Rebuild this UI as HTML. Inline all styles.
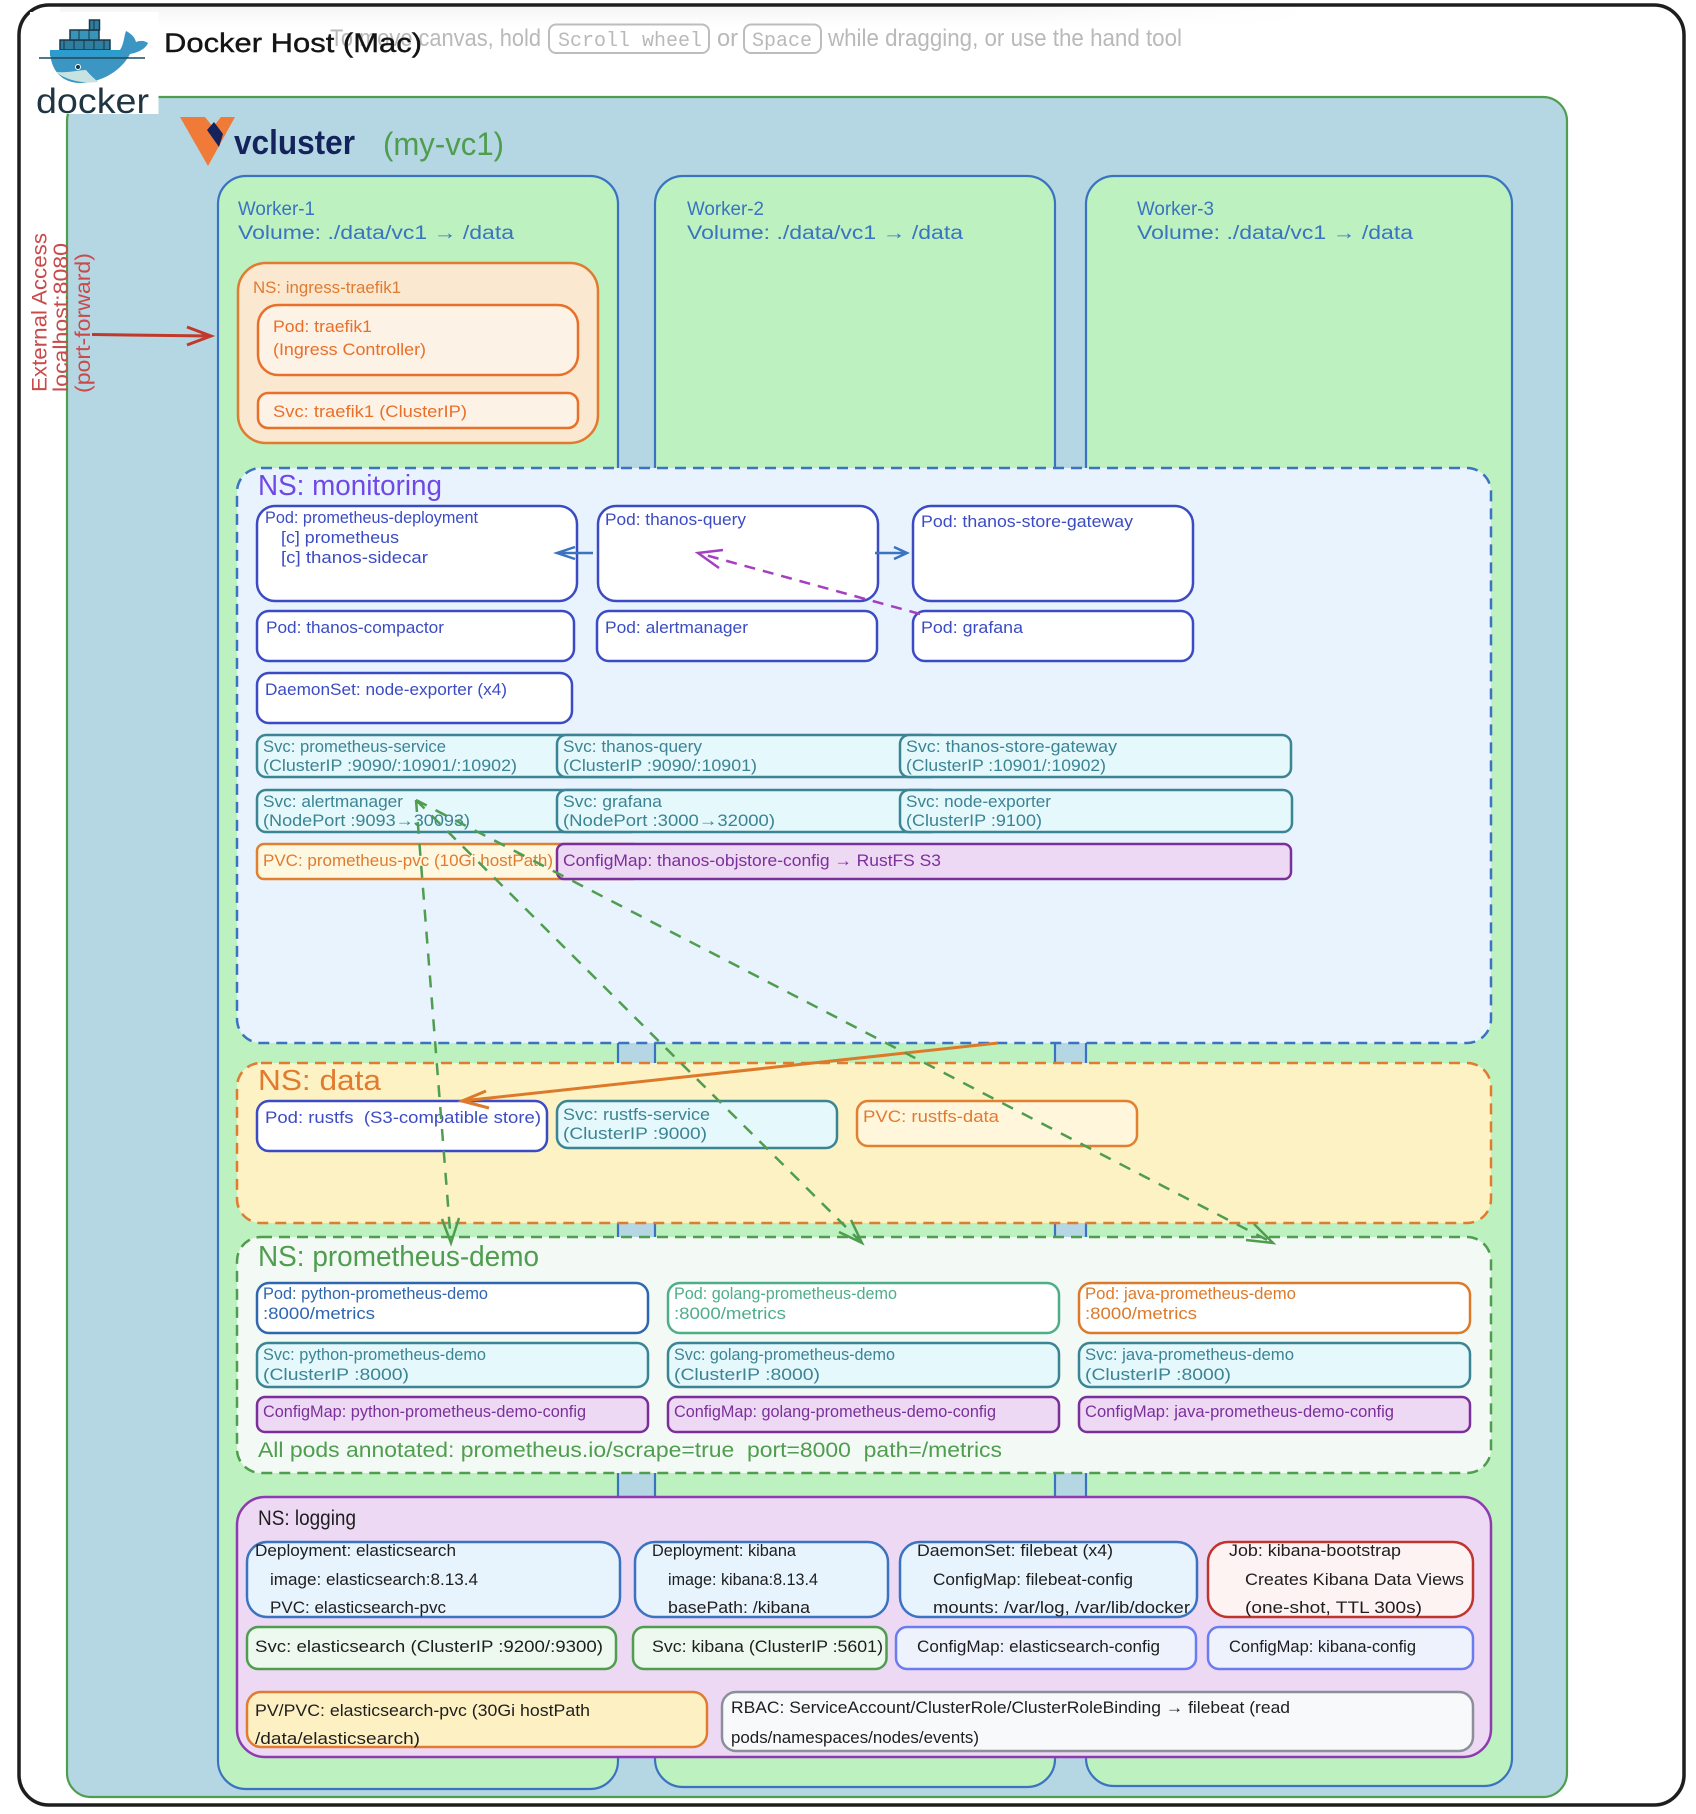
<!DOCTYPE html>
<html><head><meta charset="utf-8"><title>Docker Host diagram</title>
<style>
html,body{margin:0;padding:0;background:#fff;width:1696px;height:1814px;overflow:hidden}
svg{display:block}
text{font-family:"Liberation Sans",sans-serif;white-space:pre}
.m{font-size:17px;fill:#3b4bc4}
.s{font-size:17px;fill:#3b8494}
.c{font-size:17px;fill:#7b2f9b}
.o{font-size:17px;fill:#e07b30}
.k{font-size:17px;fill:#1e1e1e}
.w{font-size:19px;fill:#3a73c0}
.p{font-size:24px;fill:#b9b9b9}
</style></head><body>
<svg width="1696" height="1814" viewBox="0 0 1696 1814" xmlns="http://www.w3.org/2000/svg">
<defs><linearGradient id="g" x1="0" y1="0" x2="0" y2="1"><stop offset="0" stop-color="#f5f5f5"/><stop offset="1" stop-color="#fff"/></linearGradient>
<linearGradient id="h" x1="0" y1="0" x2="1" y2="0"><stop offset="0" stop-color="#fff" stop-opacity="0"/><stop offset="1" stop-color="#fff"/></linearGradient></defs>
<rect width="1696" height="1814" fill="#fff"/>
<rect x="19" y="5" width="1665" height="1800" rx="30" fill="#fff" stroke="#1e1e1e" stroke-width="3.5"/>
<rect x="60" y="7" width="1250" height="20" fill="url(#g)"/>
<rect x="1000" y="7" width="310" height="20" fill="url(#h)"/>

<rect x="67" y="97" width="1500" height="1700" rx="24" fill="#b5d6e3" stroke="#4f9d4f" stroke-width="2.2"/>
<rect x="218" y="176" width="400" height="1613" rx="28" fill="#bef1c0" stroke="#3a73c0" stroke-width="2.2"/>
<rect x="655" y="176" width="400" height="1611" rx="28" fill="#bef1c0" stroke="#3a73c0" stroke-width="2.2"/>
<rect x="1086" y="176" width="426" height="1610" rx="28" fill="#bef1c0" stroke="#3a73c0" stroke-width="2.2"/>

<!-- docker logo -->
<rect x="30" y="12" width="128.500" height="102" fill="#fff"/>
<g stroke="#16384a" stroke-width="1.5">
<rect x="60" y="40" width="50" height="10" fill="#2f7d9f"/><rect x="70" y="30" width="29" height="10" fill="#3a94b8"/><rect x="89.500" y="20" width="10" height="10" fill="#2f7d9f"/>
<path d="M64 40v10M74 40v10M84 40v10M94 40v10M104 40v10M79 30v10M89 30v10M94 20v10" fill="none" stroke-width="1"/>
</g>
<path d="M50 50 H120 C124 44 124 36 126 31 C132 34 135 38 136 42 C141 40 145 41 148 43 C145 50 136 53 130 54 C122 70 102 83 80 83 C62 83 50 70 50 50Z" fill="#3b96c4"/>
<path d="M50 50 H122 L120 56 H50Z" fill="#2a9ccd"/>
<path d="M56 72 C70 73 78 70 86 70 C90 75 96 80 98 82 C82 84 66 80 56 72Z" fill="#c6e3e1"/>
<path d="M39 58 H145" stroke="#1a4a62" stroke-width="1.500"/>
<circle cx="78" cy="67" r="2.500" fill="#16384a" stroke="#fff" stroke-width="1"/>
<text x="36" y="113" font-size="35" fill="#1f3642" textLength="113" lengthAdjust="spacingAndGlyphs">docker</text>

<!-- placeholder hint -->
<text class="p" x="330" y="46" textLength="211" lengthAdjust="spacingAndGlyphs">To move canvas, hold</text>
<rect x="549" y="24.500" width="160" height="28.500" rx="7" fill="none" stroke="#bdbdbd" stroke-width="2"/>
<text x="558" y="46" font-size="20" fill="#b9b9b9" style="font-family:'Liberation Mono',monospace" textLength="144" lengthAdjust="spacingAndGlyphs">Scroll wheel</text>
<text class="p" x="717" y="46" textLength="21" lengthAdjust="spacingAndGlyphs">or</text>
<rect x="744" y="24.500" width="77" height="28.500" rx="7" fill="none" stroke="#bdbdbd" stroke-width="2"/>
<text x="752" y="46" font-size="20" fill="#b9b9b9" style="font-family:'Liberation Mono',monospace" textLength="60" lengthAdjust="spacingAndGlyphs">Space</text>
<text class="p" x="828" y="46" textLength="354" lengthAdjust="spacingAndGlyphs">while dragging, or use the hand tool</text>

<text x="164" y="52" font-size="27" fill="#141414" stroke="#141414" stroke-width="0.4" textLength="258" lengthAdjust="spacingAndGlyphs">Docker Host (Mac)</text>

<!-- vcluster logo -->
<polygon points="180,117 235,117 208,166" fill="#f07a38"/>
<polygon points="205,117 221,117 213,127" fill="#b5d6e3"/>
<polygon points="207,130 214,122 223,134 219,147" fill="#14235c"/>
<text x="234" y="154" font-size="34" font-weight="bold" fill="#14235c" textLength="121" lengthAdjust="spacingAndGlyphs">vcluster</text>
<text x="383" y="155" font-size="32" fill="#4f9d4f" textLength="121" lengthAdjust="spacingAndGlyphs">(my-vc1)</text>

<!-- worker labels -->
<text class="w" x="238" y="215" textLength="77" lengthAdjust="spacingAndGlyphs">Worker-1</text>
<text class="w" x="238" y="239" textLength="276" lengthAdjust="spacingAndGlyphs">Volume: ./data/vc1 → /data</text>
<text class="w" x="687" y="215" textLength="77" lengthAdjust="spacingAndGlyphs">Worker-2</text>
<text class="w" x="687" y="239" textLength="276" lengthAdjust="spacingAndGlyphs">Volume: ./data/vc1 → /data</text>
<text class="w" x="1137" y="215" textLength="77" lengthAdjust="spacingAndGlyphs">Worker-3</text>
<text class="w" x="1137" y="239" textLength="276" lengthAdjust="spacingAndGlyphs">Volume: ./data/vc1 → /data</text>

<!-- ingress -->
<rect x="238" y="263" width="360" height="180" rx="28" fill="#fbe8d1" stroke="#e07b30" stroke-width="2.500"/>
<text class="o" x="253" y="293" textLength="148" lengthAdjust="spacingAndGlyphs">NS: ingress-traefik1</text>
<rect x="258" y="305" width="320" height="70" rx="20" fill="#fdf2e6" stroke="#e8702a" stroke-width="2.500"/>
<text class="o" x="273" y="332" textLength="99" lengthAdjust="spacingAndGlyphs" style="fill:#e8702a">Pod: traefik1</text>
<text class="o" x="273" y="355" textLength="153" lengthAdjust="spacingAndGlyphs" style="fill:#e8702a">(Ingress Controller)</text>
<rect x="258" y="393" width="320" height="35" rx="10" fill="#fdf2e6" stroke="#e8702a" stroke-width="2.500"/>
<text class="o" x="273" y="417" textLength="194" lengthAdjust="spacingAndGlyphs" style="fill:#e8702a">Svc: traefik1 (ClusterIP)</text>

<!-- external -->
<g fill="#c94a4a" font-size="21">
<text transform="translate(46.500,392) rotate(-90)" textLength="159" lengthAdjust="spacingAndGlyphs">External Access</text>
<text transform="translate(68,392) rotate(-90)" textLength="149" lengthAdjust="spacingAndGlyphs">localhost:8080</text>
<text transform="translate(90,393) rotate(-90)" textLength="140" lengthAdjust="spacingAndGlyphs">(port-forward)</text>
</g>
<path d="M92 334.500 L211 336 M187 327 L211 336 L187 345" fill="none" stroke="#c0392b" stroke-width="3"/>

<!-- monitoring -->
<rect x="237" y="468" width="1254" height="575" rx="24" fill="#e8f3fd" stroke="#3a73c0" stroke-width="2.500" stroke-dasharray="11 7"/>
<text x="258" y="495" font-size="29" fill="#7048e8" textLength="184" lengthAdjust="spacingAndGlyphs">NS: monitoring</text>
<g fill="#fff" stroke="#3b4bc4" stroke-width="2.500">
<rect x="257" y="506" width="320" height="95" rx="18"/>
<rect x="598" y="506" width="280" height="95" rx="18"/>
<rect x="913" y="506" width="280" height="95" rx="18"/>
<rect x="257" y="611" width="317" height="50" rx="12"/>
<rect x="597" y="611" width="280" height="50" rx="12"/>
<rect x="913" y="611" width="280" height="50" rx="12"/>
<rect x="257" y="673" width="315" height="50" rx="12"/>
</g>
<text class="m" x="265" y="523" textLength="213" lengthAdjust="spacingAndGlyphs">Pod: prometheus-deployment</text>
<text class="m" x="281" y="543" textLength="118" lengthAdjust="spacingAndGlyphs">[c] prometheus</text>
<text class="m" x="281" y="563" textLength="147" lengthAdjust="spacingAndGlyphs">[c] thanos-sidecar</text>
<text class="m" x="605" y="525" textLength="141" lengthAdjust="spacingAndGlyphs">Pod: thanos-query</text>
<text class="m" x="921" y="527" textLength="212" lengthAdjust="spacingAndGlyphs">Pod: thanos-store-gateway</text>
<text class="m" x="266" y="633" textLength="178" lengthAdjust="spacingAndGlyphs">Pod: thanos-compactor</text>
<text class="m" x="605" y="633" textLength="143" lengthAdjust="spacingAndGlyphs">Pod: alertmanager</text>
<text class="m" x="921" y="633" textLength="102" lengthAdjust="spacingAndGlyphs">Pod: grafana</text>
<text class="m" x="265" y="695" textLength="242" lengthAdjust="spacingAndGlyphs">DaemonSet: node-exporter (x4)</text>

<g fill="#e5f8fc" stroke="#3b8494" stroke-width="2.500">
<rect x="257" y="735" width="383" height="42" rx="9"/>
<rect x="557" y="735" width="383" height="42" rx="9"/>
<rect x="900" y="735" width="391" height="42" rx="9"/>
<rect x="257" y="790" width="383" height="42" rx="9"/>
<rect x="557" y="790" width="383" height="42" rx="9"/>
<rect x="900" y="790" width="392" height="42" rx="9"/>
</g>
<rect x="257" y="844" width="383" height="35" rx="7" fill="#fff8e0" stroke="#e08030" stroke-width="2.500"/>
<rect x="557" y="844" width="734" height="35" rx="7" fill="#eed9f5" stroke="#7b2f9b" stroke-width="2.500"/>
<text class="s" x="263" y="752" textLength="183" lengthAdjust="spacingAndGlyphs">Svc: prometheus-service</text>
<text class="s" x="263" y="771" textLength="254" lengthAdjust="spacingAndGlyphs">(ClusterIP :9090/:10901/:10902)</text>
<text class="s" x="563" y="752" textLength="139" lengthAdjust="spacingAndGlyphs">Svc: thanos-query</text>
<text class="s" x="563" y="771" textLength="194" lengthAdjust="spacingAndGlyphs">(ClusterIP :9090/:10901)</text>
<text class="s" x="906" y="752" textLength="211" lengthAdjust="spacingAndGlyphs">Svc: thanos-store-gateway</text>
<text class="s" x="906" y="771" textLength="200" lengthAdjust="spacingAndGlyphs">(ClusterIP :10901/:10902)</text>
<text class="s" x="263" y="807" textLength="140" lengthAdjust="spacingAndGlyphs">Svc: alertmanager</text>
<text class="s" x="263" y="826" textLength="207" lengthAdjust="spacingAndGlyphs">(NodePort :9093→30093)</text>
<text class="s" x="563" y="807" textLength="99" lengthAdjust="spacingAndGlyphs">Svc: grafana</text>
<text class="s" x="563" y="826" textLength="212" lengthAdjust="spacingAndGlyphs">(NodePort :3000→32000)</text>
<text class="s" x="906" y="807" textLength="145" lengthAdjust="spacingAndGlyphs">Svc: node-exporter</text>
<text class="s" x="906" y="826" textLength="136" lengthAdjust="spacingAndGlyphs">(ClusterIP :9100)</text>
<text class="o" x="263" y="866" textLength="290" lengthAdjust="spacingAndGlyphs">PVC: prometheus-pvc (10Gi hostPath)</text>
<text class="c" x="563" y="866" textLength="378" lengthAdjust="spacingAndGlyphs">ConfigMap: thanos-objstore-config → RustFS S3</text>

<!-- data -->
<rect x="237" y="1063" width="1254" height="160" rx="24" fill="#fdf2c4" stroke="#e07b30" stroke-width="2.500" stroke-dasharray="11 7"/>
<text x="258" y="1090" font-size="29" fill="#e07b30" textLength="123" lengthAdjust="spacingAndGlyphs">NS: data</text>
<rect x="257" y="1101" width="290" height="50" rx="12" fill="#fff" stroke="#3b4bc4" stroke-width="2.500"/>
<text class="m" x="265" y="1123" textLength="276" lengthAdjust="spacingAndGlyphs">Pod: rustfs  (S3-compatible store)</text>
<rect x="557" y="1101" width="280" height="47" rx="11" fill="#e5f8fc" stroke="#3b8494" stroke-width="2.500"/>
<text class="s" x="563" y="1120" textLength="147" lengthAdjust="spacingAndGlyphs">Svc: rustfs-service</text>
<text class="s" x="563" y="1139" textLength="144" lengthAdjust="spacingAndGlyphs">(ClusterIP :9000)</text>
<rect x="857" y="1101" width="280" height="45" rx="11" fill="#fff6dc" stroke="#e08030" stroke-width="2.500"/>
<text class="o" x="863" y="1122" textLength="136" lengthAdjust="spacingAndGlyphs">PVC: rustfs-data</text>

<!-- demo -->
<rect x="237" y="1237" width="1254" height="236" rx="24" fill="#f3f9f4" stroke="#4f9d4f" stroke-width="2.500" stroke-dasharray="11 7"/>
<text x="258" y="1266" font-size="29" fill="#4f9d4f" textLength="281" lengthAdjust="spacingAndGlyphs">NS: prometheus-demo</text>
<rect x="257" y="1283" width="391" height="50" rx="12" fill="#fff" stroke="#2f66b0" stroke-width="2.500"/>
<rect x="668" y="1283" width="391" height="50" rx="12" fill="#fff" stroke="#4fae8a" stroke-width="2.500"/>
<rect x="1079" y="1283" width="391" height="50" rx="12" fill="#fff" stroke="#dd7a2a" stroke-width="2.500"/>
<g fill="#e5f8fc" stroke="#3b8494" stroke-width="2.500">
<rect x="257" y="1343" width="391" height="44" rx="11"/>
<rect x="668" y="1343" width="391" height="44" rx="11"/>
<rect x="1079" y="1343" width="391" height="44" rx="11"/>
</g>
<g fill="#eed9f5" stroke="#7b2f9b" stroke-width="2.500">
<rect x="257" y="1397" width="391" height="35" rx="8"/>
<rect x="668" y="1397" width="391" height="35" rx="8"/>
<rect x="1079" y="1397" width="391" height="35" rx="8"/>
</g>
<text class="m" x="263" y="1299" textLength="225" lengthAdjust="spacingAndGlyphs" style="fill:#2f66b0">Pod: python-prometheus-demo</text>
<text class="m" x="263" y="1319" textLength="112" lengthAdjust="spacingAndGlyphs" style="fill:#2f66b0">:8000/metrics</text>
<text class="m" x="674" y="1299" textLength="223" lengthAdjust="spacingAndGlyphs" style="fill:#4fae8a">Pod: golang-prometheus-demo</text>
<text class="m" x="674" y="1319" textLength="112" lengthAdjust="spacingAndGlyphs" style="fill:#4fae8a">:8000/metrics</text>
<text class="m" x="1085" y="1299" textLength="211" lengthAdjust="spacingAndGlyphs" style="fill:#dd7a2a">Pod: java-prometheus-demo</text>
<text class="m" x="1085" y="1319" textLength="112" lengthAdjust="spacingAndGlyphs" style="fill:#dd7a2a">:8000/metrics</text>
<text class="s" x="263" y="1360" textLength="223" lengthAdjust="spacingAndGlyphs">Svc: python-prometheus-demo</text>
<text class="s" x="263" y="1380" textLength="146" lengthAdjust="spacingAndGlyphs">(ClusterIP :8000)</text>
<text class="s" x="674" y="1360" textLength="221" lengthAdjust="spacingAndGlyphs">Svc: golang-prometheus-demo</text>
<text class="s" x="674" y="1380" textLength="146" lengthAdjust="spacingAndGlyphs">(ClusterIP :8000)</text>
<text class="s" x="1085" y="1360" textLength="209" lengthAdjust="spacingAndGlyphs">Svc: java-prometheus-demo</text>
<text class="s" x="1085" y="1380" textLength="146" lengthAdjust="spacingAndGlyphs">(ClusterIP :8000)</text>
<text class="c" x="263" y="1417" textLength="323" lengthAdjust="spacingAndGlyphs">ConfigMap: python-prometheus-demo-config</text>
<text class="c" x="674" y="1417" textLength="322" lengthAdjust="spacingAndGlyphs">ConfigMap: golang-prometheus-demo-config</text>
<text class="c" x="1085" y="1417" textLength="309" lengthAdjust="spacingAndGlyphs">ConfigMap: java-prometheus-demo-config</text>
<text x="258" y="1457" font-size="21" fill="#4f9d4f" textLength="744" lengthAdjust="spacingAndGlyphs">All pods annotated: prometheus.io/scrape=true  port=8000  path=/metrics</text>

<!-- logging -->
<rect x="237" y="1497" width="1254" height="260" rx="28" fill="#eed9f5" stroke="#8e3bb0" stroke-width="2.500"/>
<text x="258" y="1525" font-size="21" fill="#1e1e1e" textLength="98" lengthAdjust="spacingAndGlyphs">NS: logging</text>
<g fill="#e7f3fd" stroke="#3a73c0" stroke-width="2.500">
<rect x="247" y="1542" width="373" height="75" rx="20"/>
<rect x="635" y="1542" width="253" height="75" rx="20"/>
<rect x="900" y="1542" width="297" height="75" rx="20"/>
</g>
<rect x="1208" y="1542" width="265" height="75" rx="20" fill="#fdf3f3" stroke="#c0342e" stroke-width="2.500"/>
<rect x="247" y="1627" width="369" height="42" rx="11" fill="#edf8ef" stroke="#4f9d4f" stroke-width="2.500"/>
<rect x="633" y="1627" width="253.500" height="42" rx="11" fill="#edf8ef" stroke="#4f9d4f" stroke-width="2.500"/>
<rect x="896" y="1627" width="300" height="42" rx="11" fill="#eef2fd" stroke="#6a7cf0" stroke-width="2.500"/>
<rect x="1208" y="1627" width="265" height="42" rx="11" fill="#eef2fd" stroke="#6a7cf0" stroke-width="2.500"/>
<rect x="247" y="1692" width="460" height="55" rx="14" fill="#fdf1c4" stroke="#e07b30" stroke-width="2.500"/>
<rect x="722" y="1692" width="751" height="59" rx="14" fill="#f8f9fb" stroke="#8a8f9a" stroke-width="2.500"/>
<text class="k" x="255" y="1556" textLength="201" lengthAdjust="spacingAndGlyphs">Deployment: elasticsearch</text>
<text class="k" x="270" y="1585" textLength="208" lengthAdjust="spacingAndGlyphs">image: elasticsearch:8.13.4</text>
<text class="k" x="270" y="1613" textLength="176" lengthAdjust="spacingAndGlyphs">PVC: elasticsearch-pvc</text>
<text class="k" x="652" y="1556" textLength="144" lengthAdjust="spacingAndGlyphs">Deployment: kibana</text>
<text class="k" x="668" y="1585" textLength="150" lengthAdjust="spacingAndGlyphs">image: kibana:8.13.4</text>
<text class="k" x="668" y="1613" textLength="142" lengthAdjust="spacingAndGlyphs">basePath: /kibana</text>
<text class="k" x="917" y="1556" textLength="196" lengthAdjust="spacingAndGlyphs">DaemonSet: filebeat (x4)</text>
<text class="k" x="933" y="1585" textLength="200" lengthAdjust="spacingAndGlyphs">ConfigMap: filebeat-config</text>
<text class="k" x="933" y="1613" textLength="257" lengthAdjust="spacingAndGlyphs">mounts: /var/log, /var/lib/docker</text>
<text class="k" x="1229" y="1556" textLength="172" lengthAdjust="spacingAndGlyphs">Job: kibana-bootstrap</text>
<text class="k" x="1245" y="1585" textLength="219" lengthAdjust="spacingAndGlyphs">Creates Kibana Data Views</text>
<text class="k" x="1245" y="1613" textLength="177" lengthAdjust="spacingAndGlyphs">(one-shot, TTL 300s)</text>
<text class="k" x="255" y="1652" textLength="348" lengthAdjust="spacingAndGlyphs">Svc: elasticsearch (ClusterIP :9200/:9300)</text>
<text class="k" x="652" y="1652" textLength="231" lengthAdjust="spacingAndGlyphs">Svc: kibana (ClusterIP :5601)</text>
<text class="k" x="917" y="1652" textLength="243" lengthAdjust="spacingAndGlyphs">ConfigMap: elasticsearch-config</text>
<text class="k" x="1229" y="1652" textLength="187" lengthAdjust="spacingAndGlyphs">ConfigMap: kibana-config</text>
<text class="k" x="255" y="1716" textLength="335" lengthAdjust="spacingAndGlyphs">PV/PVC: elasticsearch-pvc (30Gi hostPath</text>
<text class="k" x="255" y="1744" textLength="165" lengthAdjust="spacingAndGlyphs">/data/elasticsearch)</text>
<text class="k" x="731" y="1713" textLength="559" lengthAdjust="spacingAndGlyphs">RBAC: ServiceAccount/ClusterRole/ClusterRoleBinding → filebeat (read</text>
<text class="k" x="731" y="1743" textLength="248" lengthAdjust="spacingAndGlyphs">pods/namespaces/nodes/events)</text>

<!-- connectors -->
<g fill="none" stroke="#3a73c0" stroke-width="2.500">
<path d="M593 553 H557 M575 547 L557 553 L575 559"/>
<path d="M875 553 H907 M894 547 L907 553 L894 559"/>
</g>
<path d="M920 614 L698 553" fill="none" stroke="#a53fc0" stroke-width="2.500" stroke-dasharray="11 8"/>
<path d="M723 550 L698 553 L719 568" fill="none" stroke="#a53fc0" stroke-width="2.500"/>
<path d="M998 1043 L462 1101 M486 1091 L462 1101 L489 1108" fill="none" stroke="#dd7a2a" stroke-width="3"/>
<g fill="none" stroke="#4f9d4f" stroke-width="2.500">
<path d="M416 800 L451 1243" stroke-dasharray="12 10"/>
<path d="M416 800 L862 1243" stroke-dasharray="12 10"/>
<path d="M416 800 L1273 1243" stroke-dasharray="12 10"/>
<path d="M442 1219 L451 1243 L459 1218"/>
<path d="M839 1232 L862 1243 L851 1220"/>
<path d="M1246 1240 L1273 1243 L1254 1224"/>
</g>
</svg>
</body></html>
